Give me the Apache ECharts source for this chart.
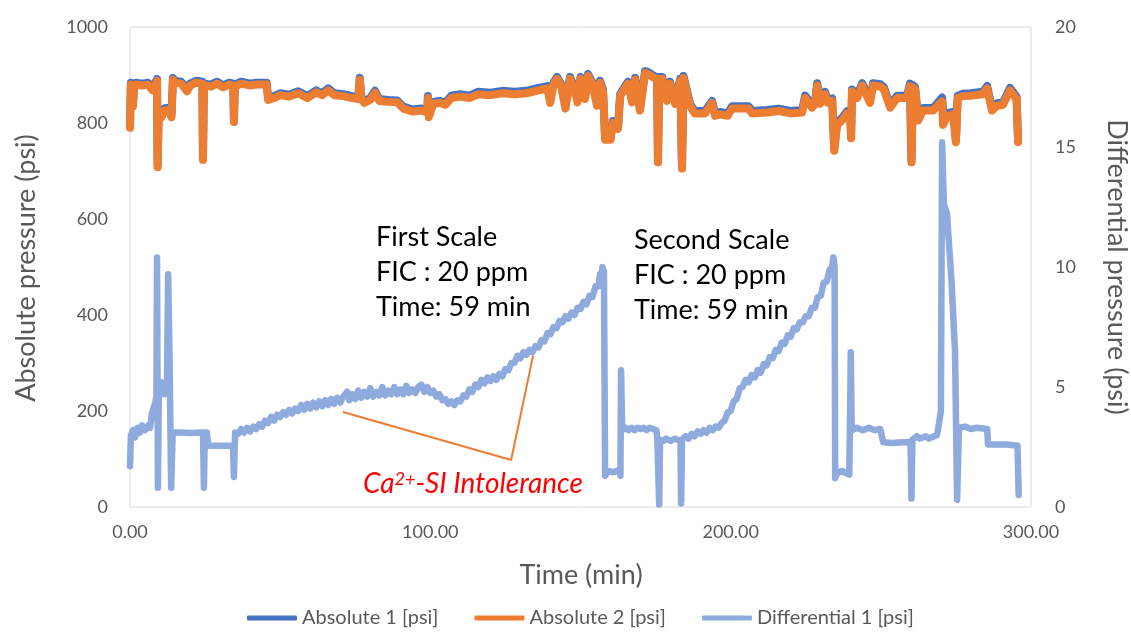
<!DOCTYPE html>
<html>
<head>
<meta charset="utf-8">
<script src="https://cdn.jsdelivr.net/npm/echarts@6/dist/echarts.min.js"></script>
<style>
  html, body { margin: 0; padding: 0; background: #fff; }
  #chart { width: 1131px; height: 634px; }
</style>
</head>
<body>
<div id="chart"></div>
<script>
// [time (min), psi]
const abs1Points = [
  [0, 794], [0.3, 884], [0.8, 882], [1.0, 839], [1.3, 874], [2, 884], [4, 882], [6, 884], [7.5, 872], [8, 876],
  [9.0, 892], [9.2, 712], [9.5, 812], [10.5, 817], [11.5, 831], [13, 832], [13.8, 816], [14.3, 894], [15, 888],
  [17, 886], [19, 870], [20, 882], [22, 888], [24.1, 886], [24.3, 727], [24.6, 882], [27, 880], [29, 886], [31, 878],
  [33, 884], [34.4, 882], [34.6, 806], [34.9, 880], [37, 886], [40, 882], [42, 884], [45.5, 884], [46, 852], [48, 856],
  [50, 862], [53, 859], [56, 866], [59, 856], [62, 868], [64, 862], [66, 872], [68, 862], [71, 860], [74, 856],
  [76.0, 854], [76.5, 894], [77, 854], [78, 846], [80, 852], [81.6, 867], [83, 850], [86, 848], [89, 847], [91, 834],
  [94, 828], [97, 830], [99, 826], [99.2, 856], [99.5, 816], [101, 844], [103, 846], [105, 842], [107, 857], [110, 860],
  [113, 857], [116, 865], [120, 863], [124, 867], [128, 865], [132, 867], [136, 873], [139, 877], [139.9, 846],
  [141, 884], [142.2, 896], [143.5, 882], [145, 834], [146.5, 896], [148, 874], [149, 847], [150, 896], [151.5, 854],
  [152.5, 902], [154, 884], [155.5, 840], [156.5, 888], [157.5, 870], [158.2, 769], [160, 769], [160.8, 804],
  [162.5, 792], [163.2, 860], [165.8, 886], [167.2, 847], [168.2, 894], [169.8, 830], [171.5, 908], [172.5, 906],
  [174.5, 898], [175.5, 894], [175.8, 722], [176.2, 896], [177.2, 896], [178.8, 850], [179.8, 886], [181.5, 844],
  [183.2, 892], [183.8, 709], [184.3, 898], [186.5, 840], [188, 825], [191.5, 825], [193.8, 846], [194.8, 820],
  [196.5, 823], [199, 820], [200.5, 835], [204, 835], [206, 835], [207.1, 825], [212, 827], [216, 830], [220, 825],
  [223.8, 827], [224.8, 857], [227.1, 837], [228.1, 845], [228.8, 883], [229.8, 845], [231.4, 865], [232.4, 847],
  [233.8, 851], [234.5, 746], [235.4, 800], [237.4, 813], [238.8, 825], [239.8, 823], [240.1, 772], [240.4, 870],
  [242.1, 857], [243.8, 883], [246.4, 847], [247.4, 883], [249.8, 881], [251, 875], [253.1, 837], [255.4, 857],
  [258.7, 857], [259.7, 882], [260.2, 722], [260.7, 879], [261.4, 875], [262.4, 810], [264.1, 831], [267.4, 831],
  [269.5, 846], [270.4, 853], [270.8, 853], [271.0, 802], [272.1, 821], [274.1, 823], [275.0, 764], [275.6, 857],
  [277.3, 861], [280, 862], [284, 865], [285.4, 877], [287, 831], [288.7, 841], [290.7, 843], [293, 873],
  [295.2, 855], [295.7, 764]
];

const abs2Points = [
  [0, 790], [0.3, 880], [0.8, 878], [1.0, 835], [1.3, 870], [2, 880], [4, 878], [6, 880], [7.5, 868], [8, 872],
  [9.0, 888], [9.2, 708], [9.5, 806], [10.5, 812], [11.5, 826], [13, 827], [13.8, 812], [14.3, 890], [15, 884],
  [17, 882], [19, 866], [20, 878], [22, 884], [24.1, 882], [24.3, 723], [24.6, 878], [27, 876], [29, 882], [31, 874],
  [33, 880], [34.4, 878], [34.6, 802], [34.9, 876], [37, 882], [40, 878], [42, 880], [45.5, 880], [46, 848], [48, 852],
  [50, 858], [53, 855], [56, 862], [59, 852], [62, 864], [64, 858], [66, 868], [68, 858], [71, 856], [74, 852],
  [76.0, 850], [76.5, 890], [77, 850], [78, 842], [80, 848], [81.6, 863], [83, 846], [86, 844], [89, 843], [91, 830],
  [94, 824], [97, 826], [99, 822], [99.2, 852], [99.5, 812], [101, 840], [103, 842], [105, 838], [107, 852], [110, 855],
  [113, 852], [116, 860], [120, 858], [124, 862], [128, 860], [132, 862], [136, 868], [139, 872], [139.9, 842],
  [141, 880], [142.2, 892], [143.5, 878], [145, 830], [146.5, 892], [148, 870], [149, 843], [150, 892], [151.5, 850],
  [152.5, 898], [154, 880], [155.5, 836], [156.5, 884], [157.5, 866], [158.2, 765], [160, 765], [160.8, 800],
  [162.5, 788], [163.2, 856], [165.8, 882], [167.2, 843], [168.2, 890], [169.8, 826], [171.5, 904], [172.5, 902],
  [174.5, 894], [175.5, 890], [175.8, 718], [176.2, 892], [177.2, 892], [178.8, 846], [179.8, 882], [181.5, 840],
  [183.2, 888], [183.8, 705], [184.3, 894], [186.5, 836], [188, 820], [191.5, 820], [193.8, 842], [194.8, 815],
  [196.5, 818], [199, 815], [200.5, 830], [204, 830], [206, 830], [207.1, 820], [212, 822], [216, 825], [220, 820],
  [223.8, 822], [224.8, 852], [227.1, 832], [228.1, 840], [228.8, 878], [229.8, 840], [231.4, 860], [232.4, 842],
  [233.8, 846], [234.5, 742], [235.4, 795], [237.4, 808], [238.8, 820], [239.8, 818], [240.1, 768], [240.4, 866],
  [242.1, 852], [243.8, 878], [246.4, 842], [247.4, 878], [249.8, 876], [251, 870], [253.1, 832], [255.4, 852],
  [258.7, 852], [259.7, 877], [260.2, 718], [260.7, 874], [261.4, 870], [262.4, 805], [264.1, 826], [267.4, 826],
  [269.5, 840], [270.4, 845], [270.7, 796], [272.1, 815], [274.1, 818], [275.0, 760], [275.6, 852], [277.3, 856],
  [280, 857], [284, 860], [285.4, 872], [287, 826], [288.7, 836], [290.7, 838], [293, 868], [295.2, 850], [295.7, 760]
];

// [time (min), differential psi]
const diffPoints = [
  [0, 1.7], [0.3, 3.0], [1, 3.2], [1.7, 2.9], [2.5, 3.3], [3.3, 3.1], [4, 3.4], [5, 3.2], [6, 3.4], [6.7, 3.3],
  [7.3, 3.9], [8.3, 4.3], [8.8, 4.6], [9.0, 10.4], [9.2, 4.0], [9.3, 0.8], [9.6, 4.8], [10.5, 5.2], [11.5, 4.7],
  [12.3, 5.0], [12.7, 9.7], [13.2, 6.0], [13.7, 0.8], [14.2, 3.1], [16, 3.1], [20, 3.08], [24.3, 3.1], [24.6, 0.8],
  [24.9, 3.1], [25.6, 3.1], [26, 2.55], [30, 2.55], [34.3, 2.55], [34.6, 1.25], [35.0, 3.1],
  [36, 3.05], [37, 3.25], [38, 3.1], [39, 3.3], [40, 3.15], [41, 3.35], [42, 3.25], [43, 3.45], [44, 3.35], [45, 3.6],
  [46, 3.5], [47, 3.75], [48, 3.6], [49, 3.85], [50, 3.75], [51, 3.95], [52, 3.85], [53, 4.05], [54, 3.9], [55, 4.1],
  [56, 4.0], [57, 4.25], [58, 4.05], [59, 4.3], [60, 4.1], [61, 4.35], [62, 4.15], [63, 4.4], [64, 4.2], [65, 4.45],
  [66, 4.25], [67, 4.5], [68, 4.3], [69, 4.55], [70, 4.35], [71, 4.6], [72.3, 4.8], [73, 4.45], [74, 4.7], [75, 4.5],
  [76, 4.85], [77, 4.55], [78, 4.8], [79, 4.6], [80, 4.95], [81, 4.6], [82, 4.8], [83, 4.65], [84, 5.0], [85, 4.65],
  [86, 4.85], [87, 4.7], [88, 5.0], [89, 4.7], [90, 4.9], [91, 4.7], [92, 5.05], [93, 4.75], [94, 4.9], [95, 4.75],
  [96, 5.0], [97, 5.1], [98, 4.8], [99, 5.0], [100, 4.75], [101, 4.85], [102, 4.6], [103, 4.7], [104, 4.45], [105, 4.5],
  [106, 4.3], [107, 4.4], [108, 4.25], [109, 4.45], [110, 4.4], [111, 4.65], [112, 4.6], [113, 4.9], [114, 4.8],
  [115, 5.1], [116, 5.0], [117, 5.3], [118, 5.15], [119, 5.4], [120, 5.25], [121, 5.45], [122, 5.3], [123, 5.55],
  [124, 5.45], [125, 5.75], [126, 5.7], [127, 6.0], [128, 6.0], [129, 6.3], [130, 6.2], [131, 6.45], [132, 6.35],
  [133, 6.55], [134, 6.45], [135, 6.7], [136, 6.65], [137, 6.95], [138, 6.9], [139, 7.25], [140, 7.2], [141, 7.5],
  [142, 7.45], [143, 7.75], [144, 7.7], [145, 7.95], [146, 7.85], [147, 8.1], [148, 8.0], [149, 8.3], [150, 8.25],
  [151, 8.55], [152, 8.45], [153, 8.8], [154, 8.75], [155, 9.2], [156, 9.2], [156.5, 9.7], [157, 9.5], [157.3, 10.0],
  [157.8, 9.8], [158.2, 1.3], [159, 1.5], [161, 1.45], [163.0, 1.55], [163.3, 1.3], [163.5, 5.7], [163.9, 3.2],
  [165, 3.3], [166, 3.2], [167, 3.3], [168, 3.2], [169, 3.3], [170, 3.25], [171, 3.3], [172, 3.2], [173, 3.3],
  [175.3, 3.2], [175.6, 2.8], [176.0, 2.8], [176.2, 0.1], [176.5, 2.8], [177.5, 2.75], [178.5, 2.85], [180, 2.75],
  [181.5, 2.85], [183.3, 2.75], [183.5, 0.15], [183.8, 2.8],
  [184, 2.8], [185, 2.95], [186, 2.85], [187, 3.05], [188, 2.95], [189, 3.15], [190, 3.05], [191, 3.2], [192, 3.1],
  [193, 3.3], [194, 3.2], [195, 3.35], [196, 3.3], [197, 3.5], [198, 3.6], [199, 3.95], [200, 4.0], [201, 4.4],
  [202, 4.5], [203, 4.95], [204, 5.0], [205, 5.3], [206, 5.2], [207, 5.5], [208, 5.4], [209, 5.7], [210, 5.6],
  [211, 5.95], [212, 5.9], [213, 6.25], [214, 6.2], [215, 6.55], [216, 6.5], [217, 6.85], [218, 6.8], [219, 7.15],
  [220, 7.1], [221, 7.45], [222, 7.4], [223, 7.7], [224, 7.7], [225, 7.95], [226, 7.95], [227, 8.3], [228, 8.3],
  [229, 8.75], [230, 8.8], [231, 9.35], [232, 9.4], [233, 9.9], [233.6, 9.8], [234.2, 10.4], [234.6, 10.0],
  [234.8, 1.2], [235.4, 1.4], [237, 1.5], [239.5, 1.35], [239.8, 1.3], [240.0, 6.45], [240.3, 3.2], [242, 3.3],
  [244, 3.2], [246, 3.3], [248, 3.2], [249.8, 3.25], [250.8, 2.7], [254, 2.67], [257, 2.7], [259.9, 2.7],
  [260.2, 0.35], [260.5, 2.8], [262, 2.95], [263, 2.85], [265, 2.95], [266, 2.85], [268.7, 3.0], [269.4, 3.5],
  [270.0, 4.0], [270.4, 15.2], [271.0, 12.6], [272.1, 12.2], [272.4, 11.5], [273.5, 9.5], [274.7, 6.5], [275.4, 0.3],
  [276.0, 3.3], [278, 3.35], [280, 3.25], [282, 3.3], [285.4, 3.25], [285.7, 2.6], [288, 2.6], [292, 2.6],
  [295.5, 2.55], [295.9, 0.5]
];

// annotation pointer for "Ca2+-SI Intolerance", [time, psi]
const pointerPoints = [[70.9, 198], [126.9, 98], [134.2, 315]];

const seriesNames = ["Absolute 1 [psi]", "Absolute 2 [psi]", "Differential 1 [psi]"];
const xTicks = [0, 100, 200, 300];

const FONT = "Lato";
const GREY = "#595959";

let chart = echarts.init(document.getElementById("chart"));

let option = {
  animation: false,
  backgroundColor: "#fff",
  textStyle: { fontFamily: FONT },
  grid: {
    left: 130, right: 100, top: 27, bottom: 127,
    show: true, borderColor: "#D9D9D9", borderWidth: 1,
  },
  legend: {
    data: seriesNames,
    bottom: 6,
    left: 247,
    padding: 0,
    itemWidth: 50,
    itemHeight: 5,
    itemGap: 36,
    icon: "roundRect",
    textStyle: { fontFamily: FONT, fontSize: 20, color: GREY },
  },
  xAxis: {
    type: "value",
    min: xTicks[0], max: xTicks[xTicks.length - 1], interval: 100,
    axisLine: { show: false },
    axisTick: { show: false },
    splitLine: { show: false },
    axisLabel: {
      color: GREY, fontSize: 18, margin: 16,
      formatter: (v) => v.toFixed(2),
    },
  },
  yAxis: [
    {
      type: "value", min: 0, max: 1000, interval: 200,
      axisLine: { show: false }, axisTick: { show: false }, splitLine: { show: false },
      axisLabel: { color: GREY, fontSize: 18, margin: 22, formatter: (v) => String(v) },
    },
    {
      type: "value", min: 0, max: 20, interval: 5,
      axisLine: { show: false }, axisTick: { show: false }, splitLine: { show: false },
      axisLabel: { color: GREY, fontSize: 18, margin: 24 },
    },
  ],
  graphic: [
    {
      type: "text", x: 26, y: 268, rotation: Math.PI / 2,
      style: { text: "Absolute pressure (psi)", fill: GREY, font: "27px " + FONT, align: "center", verticalAlign: "middle" },
    },
    {
      type: "text", x: 1117, y: 267, rotation: -Math.PI / 2,
      style: { text: "Differential pressure (psi)", fill: GREY, font: "27px " + FONT, align: "center", verticalAlign: "middle" },
    },
    {
      type: "text", x: 581, y: 575,
      style: { text: "Time (min)", fill: GREY, font: "27px " + FONT, align: "center", verticalAlign: "middle" },
    },
    {
      type: "text", x: 376, y: 220,
      style: { text: "First Scale\nFIC : 20 ppm\nTime: 59 min", fill: "#000", font: "27px " + FONT, lineHeight: 35, verticalAlign: "top" },
    },
    {
      type: "text", x: 634, y: 223,
      style: { text: "Second Scale\nFIC : 20 ppm\nTime: 59 min", fill: "#000", font: "27px " + FONT, lineHeight: 35, verticalAlign: "top" },
    },
    {
      type: "text", x: 363, y: 484,
      style: {
        text: "{a|Ca}{s|2+}{a|-SI Intolerance}",
        verticalAlign: "middle",
        rich: {
          a: { fill: "#FF0000", fontFamily: FONT, fontStyle: "italic", fontSize: 28 },
          s: { fill: "#FF0000", fontFamily: FONT, fontStyle: "italic", fontSize: 18, verticalAlign: "top", padding: [0, 0, 10, 0] },
        },
      },
    },
  ],
  series: [
    {
      name: seriesNames[0], type: "line", yAxisIndex: 0, data: abs1Points,
      showSymbol: false, symbol: "none", color: "#4472C4",
      lineStyle: { width: 8, color: "#4472C4", join: "round", cap: "round" },
    },
    {
      name: seriesNames[1], type: "line", yAxisIndex: 0, data: abs2Points,
      showSymbol: false, symbol: "none", color: "#ED7D31",
      lineStyle: { width: 8, color: "#ED7D31", join: "round", cap: "round" },
    },
    {
      name: seriesNames[2], type: "line", yAxisIndex: 1, data: diffPoints,
      showSymbol: false, symbol: "none", color: "#8FAADC",
      lineStyle: { width: 6.5, color: "#8FAADC", join: "round", cap: "round" },
    },
    {
      name: "pointer", type: "line", yAxisIndex: 0, data: pointerPoints,
      showSymbol: false, symbol: "none", silent: true,
      lineStyle: { width: 2, color: "#ED7D31" },
    },
  ],
};
chart.setOption(option);
</script>
</body>
</html>
